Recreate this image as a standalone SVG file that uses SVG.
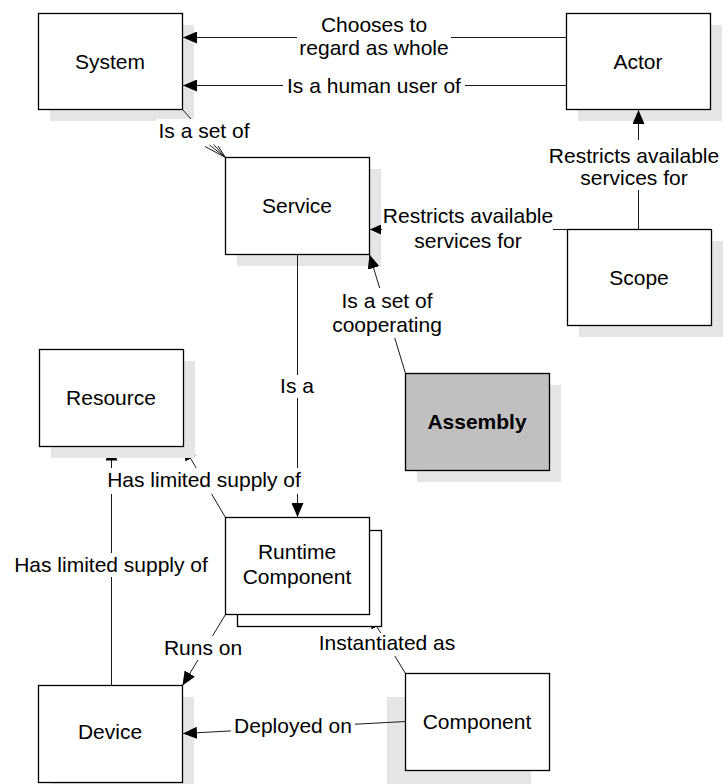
<svg xmlns="http://www.w3.org/2000/svg" width="728" height="784" viewBox="0 0 728 784">
  <defs>
    <style>
      .sh { fill: #e5e5e5; }
      .bx { fill: #ffffff; stroke: #000000; stroke-width: 1.3; }
      .asm { fill: #c0c0c0; stroke: #000000; stroke-width: 1.3; }
      .t { font-family: "Liberation Sans", Arial, sans-serif; font-size: 21px; fill: #000000; text-anchor: middle; }
      .tb { font-weight: bold; }
      .ln { fill: none; stroke: #1a1a1a; stroke-width: 1; }
      .lbg { fill: #ffffff; }
    </style>
    <marker id="arr" viewBox="0 0 14 12" refX="14" refY="6" markerWidth="14" markerHeight="12" markerUnits="userSpaceOnUse" orient="auto">
      <path d="M0,0 L14,6 L0,12 z" fill="#000000"/>
    </marker>
    <marker id="arrS" viewBox="0 0 11 10" refX="11" refY="5" markerWidth="11" markerHeight="10" markerUnits="userSpaceOnUse" orient="auto">
      <path d="M0,0 L11,5 L0,10 z" fill="#000000"/>
    </marker>
  </defs>

  <rect x="0" y="0" width="728" height="784" fill="#ffffff"/>

  <!-- nodes drawn beneath the connectors -->
  <g id="system">
    <rect class="sh" x="50" y="25" width="144" height="96"/>
    <rect class="bx" x="38.5" y="13.5" width="144" height="96"/>
    <text class="t" x="110" y="68.5">System</text>
  </g>
  <g id="actor">
    <rect class="sh" x="578" y="25" width="144" height="96"/>
    <rect class="bx" x="566.5" y="13.5" width="144" height="96"/>
    <text class="t" x="638" y="68.5">Actor</text>
  </g>
  <g id="service">
    <rect class="sh" x="237" y="169" width="144" height="97"/>
    <rect class="bx" x="225.5" y="157.5" width="144" height="97"/>
    <text class="t" x="297" y="213">Service</text>
  </g>
  <g id="scope">
    <rect class="sh" x="579" y="241" width="144" height="96"/>
    <rect class="bx" x="567.5" y="229.5" width="144" height="96"/>
    <text class="t" x="639" y="285">Scope</text>
  </g>
  <g id="assembly">
    <rect class="sh" x="417" y="385" width="144" height="97"/>
    <rect class="asm" x="405.5" y="373.5" width="144" height="97"/>
    <text class="t tb" x="477" y="428.5">Assembly</text>
  </g>
  <g id="device">
    <rect class="sh" x="50" y="697" width="144" height="97"/>
    <rect class="bx" x="38.5" y="685.5" width="144" height="97"/>
    <text class="t" x="110" y="739">Device</text>
  </g>
  <g id="component">
    <rect class="sh" x="387" y="697" width="144" height="97"/>
    <rect class="bx" x="405.5" y="673.5" width="144" height="97"/>
    <text class="t" x="477" y="728.5">Component</text>
  </g>

  <!-- connectors with their labels -->
  <g id="connectors">
    <line class="ln" x1="566.5" y1="37.5" x2="183" y2="37.5" marker-end="url(#arr)"/>
    <line class="ln" x1="566.5" y1="85.5" x2="183" y2="85.5" marker-end="url(#arr)"/>
    <line class="ln" x1="182.5" y1="109.5" x2="204" y2="133.5"/>
    <path class="ln" d="M205,146.5 L225.5,157.5 M209.5,145 L225.5,157.5 M213.5,144.5 L225.5,157.5 M218,146 L225.5,157.5"/>
    <line class="ln" x1="638.5" y1="229.5" x2="638.5" y2="110" marker-end="url(#arr)"/>
    <line class="ln" x1="567.5" y1="229.5" x2="370" y2="229.5" marker-end="url(#arrS)"/>
    <line class="ln" x1="297.5" y1="254.5" x2="297.5" y2="517" marker-end="url(#arr)"/>
    <line class="ln" x1="405.5" y1="373.5" x2="369.5" y2="254.5" marker-end="url(#arr)"/>
    <line class="ln" x1="225.5" y1="517.5" x2="183.5" y2="446.5" marker-end="url(#arr)"/>
    <line class="ln" x1="111.5" y1="685.5" x2="111.5" y2="446.5" marker-end="url(#arr)"/>
    <line class="ln" x1="225.5" y1="614.5" x2="182.5" y2="685.5" marker-end="url(#arr)"/>
    <line class="ln" x1="405.5" y1="673.5" x2="369.5" y2="614.5" marker-end="url(#arr)"/>
    <line class="ln" x1="405.5" y1="721.5" x2="183" y2="733.5" marker-end="url(#arr)"/>

    <rect class="lbg" x="297" y="12" width="154" height="47"/>
    <text class="t" x="374" y="31.5">Chooses to</text>
    <text class="t" x="374" y="54.5">regard as whole</text>

    <rect class="lbg" x="283" y="73" width="182" height="25"/>
    <text class="t" x="374" y="92.5">Is a human user of</text>

    <rect class="lbg" x="156" y="119" width="96" height="24"/>
    <text class="t" x="204" y="138">Is a set of</text>

    <rect class="lbg" x="547" y="140" width="174" height="50"/>
    <text class="t" x="634" y="163">Restricts available</text>
    <text class="t" x="634" y="185">services for</text>

    <rect class="lbg" x="382" y="205" width="171" height="48"/>
    <text class="t" x="468" y="223">Restricts available</text>
    <text class="t" x="468" y="248">services for</text>

    <rect class="lbg" x="278" y="375" width="39" height="23"/>
    <text class="t" x="297" y="393">Is a</text>

    <rect class="lbg" x="330" y="288" width="114" height="50"/>
    <text class="t" x="387" y="308">Is a set of</text>
    <text class="t" x="387" y="332">cooperating</text>

    <rect class="lbg" x="104" y="468" width="200" height="26"/>
    <text class="t" x="204" y="487">Has limited supply of</text>

    <rect class="lbg" x="9" y="553" width="204" height="24"/>
    <text class="t" x="111" y="572">Has limited supply of</text>

    <rect class="lbg" x="161" y="636" width="84" height="24"/>
    <text class="t" x="203" y="655">Runs on</text>

    <rect class="lbg" x="316" y="633" width="142" height="23"/>
    <text class="t" x="387" y="650">Instantiated as</text>

    <rect class="lbg" x="231" y="715" width="124" height="24"/>
    <text class="t" x="293" y="733">Deployed on</text>
  </g>

  <!-- nodes drawn over the connector ends -->
  <g id="resource">
    <rect class="sh" x="51" y="361" width="144" height="97"/>
    <rect class="bx" x="39.5" y="349.5" width="144" height="97"/>
    <text class="t" x="111" y="404.5">Resource</text>
  </g>
  <g id="runtime-component">
    <rect class="bx" x="237.5" y="530.5" width="144" height="96"/>
    <rect class="bx" x="225.5" y="517.5" width="144" height="97"/>
    <text class="t" x="297" y="559">Runtime</text>
    <text class="t" x="297" y="584">Component</text>
  </g>
</svg>
